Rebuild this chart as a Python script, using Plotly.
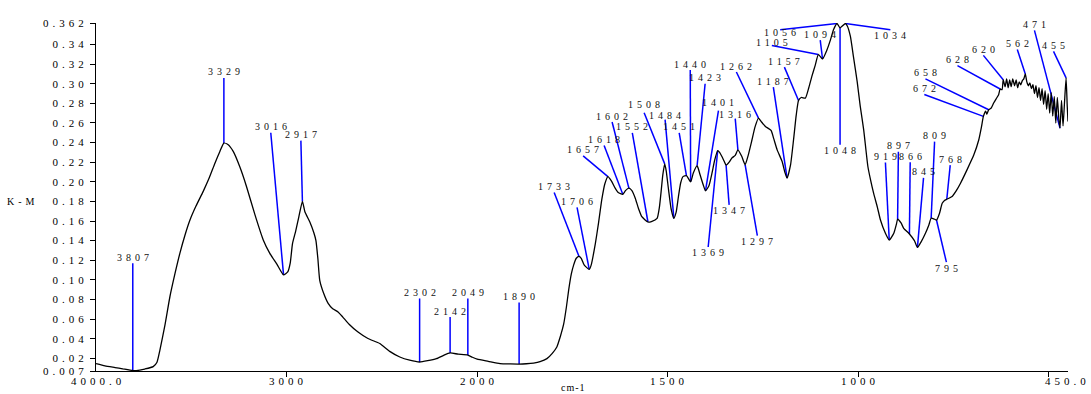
import numpy as np
import plotly.graph_objects as go

# ---- spectrum (wavenumber in cm-1, Kubelka-Munk units) ----
wavenumber = [
    4000, 3953, 3900, 3860, 3808, 3770, 3744, 3700, 3680, 3665, 3638, 3612, 3586, 3560,
    3534, 3507, 3476, 3438, 3408, 3376, 3350, 3329, 3308, 3280, 3245, 3210, 3167, 3123,
    3088, 3051, 3016, 2994, 2981, 2969, 2952, 2936, 2917, 2904, 2878, 2857, 2846, 2836,
    2826, 2805, 2782, 2758, 2730, 2705, 2672, 2627, 2573, 2511, 2459, 2406, 2354, 2302,
    2260, 2214, 2176, 2142, 2100, 2049, 2025, 2000, 1971, 1940, 1913, 1890, 1871, 1852,
    1835, 1817, 1803, 1791, 1782, 1773, 1766, 1760, 1753, 1747, 1740, 1733, 1727, 1719,
    1706, 1701, 1690, 1682, 1673, 1665, 1657, 1648, 1638, 1630, 1618, 1611, 1602, 1594,
    1585, 1577, 1568, 1552, 1543, 1528, 1522, 1517, 1513, 1508, 1504, 1498, 1491, 1484,
    1478, 1472, 1466, 1460, 1451, 1440, 1433, 1423, 1420, 1415, 1407, 1401, 1392, 1384,
    1377, 1369, 1364, 1358, 1352, 1347, 1339, 1332, 1323, 1316, 1306, 1297, 1289, 1279,
    1271, 1262, 1254, 1244, 1229, 1222, 1213, 1200, 1193, 1187, 1178, 1170, 1163, 1157,
    1150, 1139, 1130, 1122, 1113, 1105, 1094, 1082, 1073, 1065, 1056, 1048, 1034, 1029,
    1021, 1013, 1003, 995, 986, 975, 968, 960, 950, 942, 929, 919, 907, 900,
    897, 888, 881, 866, 853, 845, 835, 824, 815, 809, 800, 795, 787, 780,
    774, 768, 754, 743, 732, 715, 697, 684, 677, 672, 666, 663, 658, 652,
    645, 638, 632, 628, 623, 620, 615, 611, 607, 603, 599, 595, 590, 586,
    582, 578, 574, 570, 566, 562, 558, 554, 550, 546, 542, 538, 534, 530,
    526, 522, 518, 514, 510, 506, 502, 498, 494, 490, 486, 482, 478, 474,
    471, 467, 463, 459, 455, 452, 450,
]
km_value = [
    0.0145, 0.0122, 0.0105, 0.0092, 0.0075, 0.0080, 0.0090, 0.0115, 0.016, 0.028, 0.054, 0.083, 0.106, 0.127,
    0.145, 0.161, 0.175, 0.190, 0.203, 0.219, 0.231, 0.2395, 0.238, 0.231, 0.215, 0.195, 0.167, 0.141,
    0.127, 0.116, 0.105, 0.108, 0.117, 0.137, 0.150, 0.164, 0.180, 0.1695, 0.159, 0.148, 0.140, 0.122,
    0.0995, 0.086, 0.076, 0.0705, 0.0673, 0.062, 0.0547, 0.047, 0.0401, 0.035, 0.027, 0.0213, 0.018, 0.0162,
    0.0175, 0.0196, 0.023, 0.0254, 0.0242, 0.0233, 0.021, 0.019, 0.0168, 0.0145, 0.0142, 0.0141, 0.0144, 0.0151,
    0.0165, 0.0196, 0.025, 0.0315, 0.042, 0.055, 0.072, 0.0895, 0.106, 0.115, 0.122, 0.124, 0.122, 0.115,
    0.1107, 0.115, 0.137, 0.157, 0.182, 0.198, 0.2053, 0.201, 0.1935, 0.189, 0.1873, 0.191, 0.1935, 0.191,
    0.183, 0.173, 0.1644, 0.159, 0.1595, 0.1628, 0.174, 0.1917, 0.207, 0.2183, 0.211, 0.192, 0.172, 0.1628,
    0.169, 0.185, 0.199, 0.2053, 0.2063, 0.200, 0.209, 0.2166, 0.2135, 0.207, 0.197, 0.1907, 0.196, 0.2088,
    0.222, 0.2319, 0.230, 0.2258, 0.221, 0.217, 0.220, 0.2242, 0.227, 0.2326, 0.226, 0.2173, 0.227, 0.2429,
    0.256, 0.265, 0.261, 0.2565, 0.2524, 0.244, 0.2326, 0.2207, 0.210, 0.2037, 0.217, 0.2429, 0.268, 0.283,
    0.286, 0.2854, 0.296, 0.3076, 0.319, 0.3298, 0.3253, 0.3349, 0.345, 0.3553, 0.3615, 0.357, 0.3615, 0.359,
    0.3485, 0.328, 0.302, 0.277, 0.253, 0.2156, 0.202, 0.1884, 0.174, 0.161, 0.1475, 0.1406, 0.1475, 0.157,
    0.1618, 0.158, 0.1526, 0.1468, 0.140, 0.1331, 0.139, 0.1475, 0.156, 0.1628, 0.1618, 0.161, 0.168, 0.1781,
    0.181, 0.1822, 0.185, 0.191, 0.1986, 0.2122, 0.2275, 0.2429, 0.256, 0.2667, 0.272, 0.269, 0.2735, 0.275,
    0.2804, 0.285, 0.2889, 0.2947, 0.294, 0.3042, 0.297, 0.305, 0.296, 0.304, 0.297, 0.305, 0.298, 0.304,
    0.296, 0.302, 0.299, 0.303, 0.305, 0.310, 0.302, 0.298, 0.301, 0.295, 0.299, 0.290, 0.298, 0.286,
    0.296, 0.283, 0.295, 0.279, 0.293, 0.274, 0.290, 0.270, 0.291, 0.267, 0.287, 0.260, 0.286, 0.264,
    0.2548, 0.283, 0.257, 0.282, 0.306, 0.277, 0.2616,
]

# ---- peak picks ----
peak_labels = [
    3807, 3329, 3016, 2917, 2302, 2142, 2049, 1890, 1733, 1706, 1657, 1618, 1602, 1552,
    1508, 1484, 1451, 1440, 1423, 1401, 1369, 1347, 1316, 1297, 1262, 1187, 1157, 1105,
    1094, 1056, 1048, 1034, 919, 897, 866, 845, 809, 795, 768, 672, 658, 628, 620, 562,
    471, 455,
]

# where each pick's leader line ends (wavenumber, K-M) and which side the text sits on
leader_tips = {
    3807: (3807, 0.117, "up"), 3329: (3329, 0.306, "up"), 3016: (3083, 0.250, "up"),
    2917: (2925, 0.242, "up"), 2302: (2302, 0.081, "up"), 2142: (2142, 0.062, "up"),
    2049: (2049, 0.081, "up"), 1890: (1890, 0.077, "up"), 1733: (1798, 0.189, "up"),
    1706: (1738, 0.174, "up"), 1657: (1722, 0.2265, "up"), 1618: (1667, 0.237, "up"),
    1602: (1646, 0.261, "up"), 1552: (1593, 0.250, "up"), 1508: (1562, 0.2705, "up"),
    1484: (1507, 0.2635, "up"), 1451: (1470, 0.250, "up"), 1440: (1441, 0.314, "up"),
    1423: (1402, 0.300, "up"), 1401: (1367, 0.2725, "up"), 1369: (1394, 0.1335, "down"),
    1347: (1339, 0.1765, "down"), 1316: (1323, 0.2645, "up"), 1297: (1265, 0.145, "down"),
    1262: (1320, 0.312, "up"), 1187: (1223, 0.2965, "up"), 1157: (1194, 0.317, "up"),
    1105: (1227, 0.339, "up"), 1094: (1100, 0.3445, "up"), 1056: (1205, 0.355, "down"),
    1048: (1048, 0.2377, "down"), 1034: (916, 0.355, "down"), 919: (929, 0.2197, "up"),
    897: (895, 0.2306, "up"), 866: (864, 0.220, "up"), 845: (829, 0.204, "up"),
    809: (800, 0.241, "up"), 795: (769, 0.118, "down"), 768: (759, 0.217, "up"),
    672: (827, 0.289, "up"), 658: (824, 0.305, "up"), 628: (740, 0.3185, "up"),
    620: (672, 0.329, "up"), 562: (583, 0.335, "up"), 471: (538, 0.3545, "up"),
    455: (488, 0.333, "up"),
}
# small vertical offsets (px) that keep crowded pick labels apart
label_nudge = {1508: 2, 1484: -2, 1401: 2, 1316: -2, 1105: -3, 1056: 3}

# ---- axis ticks ----
y_tick_values = [0.007, 0.02, 0.04, 0.06, 0.08, 0.10, 0.12, 0.14, 0.16, 0.18, 0.20,
                 0.22, 0.24, 0.26, 0.28, 0.30, 0.32, 0.34, 0.362]
y_tick_labels = ["0.007", "0.02", "0.04", "0.06", "0.08", "0.10", "0.12", "0.14", "0.16",
                 "0.18", "0.20", "0.22", "0.24", "0.26", "0.28", "0.30", "0.32", "0.34", "0.362"]
x_tick_marks = [3000, 2000, 1500, 1000, 500]
x_label_values = [4000, 3000, 2000, 1500, 1000, 450]
x_label_texts = ["4000.0", "3000", "2000", "1500", "1000", "450.0"]


def to_u(w):
    """Axis coordinate: below 2000 cm-1 the scale is expanded two-fold."""
    w = np.asarray(w, dtype=float)
    return np.where(w >= 2000, 4000 - w, 2000 + 2 * (2000 - w))


wn_arr = np.array(wavenumber, dtype=float)
km_arr = np.array(km_value, dtype=float)

SERIF = "Liberation Serif, Times New Roman, serif"

fig = go.Figure()

# leader lines from the curve to each pick label
lx, ly = [], []
for p in peak_labels:
    tw, tv, _ = leader_tips[p]
    base_v = float(np.interp(p, wn_arr[::-1], km_arr[::-1]))
    lx += [float(to_u(p)), float(to_u(tw)), None]
    ly += [base_v, tv, None]
fig.add_trace(go.Scatter(x=lx, y=ly, mode="lines",
                         line=dict(color="#0000ff", width=1.5),
                         hoverinfo="skip", showlegend=False))

# spectrum
fig.add_trace(go.Scatter(x=to_u(wn_arr), y=km_arr, mode="lines",
                         line=dict(color="black", width=1.3, shape="spline", smoothing=0.5),
                         showlegend=False,
                         customdata=wn_arr,
                         hovertemplate="%{customdata:.0f} cm-1<br>%{y:.4f}<extra></extra>"))

annotations = []
for p in peak_labels:
    tw, tv, side = leader_tips[p]
    annotations.append(dict(
        x=float(to_u(tw)), y=tv, xref="x", yref="y", text=str(p), showarrow=False,
        xanchor="center", yanchor="middle",
        yshift=(6 if side == "up" else -6) + label_nudge.get(p, 0), xshift=2,
        font=dict(family=SERIF, size=10, color="#111111"), borderpad=0,
    ))

# wavenumber labels under the axis
for w, txt in zip(x_label_values, x_label_texts):
    annotations.append(dict(
        x=float(to_u(w)), y=0, xref="x", yref="paper", text=txt, showarrow=False,
        xanchor="center", yanchor="middle", yshift=-10, xshift=-1 if w == 450 else 2,
        font=dict(family=SERIF, size=11, color="black"), borderpad=0,
    ))

# axis titles
annotations.append(dict(x=0.4915, y=0, xref="paper", yref="paper", text="cm-1", showarrow=False,
                        xanchor="center", yanchor="middle", yshift=-16, borderpad=0,
                        font=dict(family=SERIF, size=10, color="black")))
annotations.append(dict(x=-0.075, y=0.18, xref="paper", yref="y", text="K-M", showarrow=False,
                        xanchor="center", yanchor="middle",
                        font=dict(family=SERIF, size=10, color="black")))

fig.update_layout(
    width=1091, height=394, autosize=False,
    margin=dict(l=96, r=23, t=23, b=23),
    paper_bgcolor="white", plot_bgcolor="white",
    annotations=annotations,
    xaxis=dict(
        range=[0, 5100], showgrid=False, zeroline=False, automargin=False,
        showline=True, linecolor="black", linewidth=1,
        tickmode="array", tickvals=to_u(x_tick_marks).tolist(), showticklabels=False,
        ticks="outside", ticklen=5, tickcolor="black", tickwidth=1,
    ),
    yaxis=dict(
        range=[0.007, 0.362], showgrid=False, zeroline=False, automargin=False,
        showline=True, linecolor="black", linewidth=1,
        tickmode="array", tickvals=y_tick_values, ticktext=y_tick_labels,
        ticks="outside", ticklen=5, tickcolor="black", tickwidth=1,
        tickfont=dict(family=SERIF, size=11, color="black"),
    ),
)

# widen the letter spacing of the numeric labels
SPACING_JS = """
var gd = document.getElementById('{plot_id}');
function spaceOut() {
  gd.querySelectorAll('.ytick text').forEach(function (t) { t.style.letterSpacing = '4px'; });
  gd.querySelectorAll('.annotation-text').forEach(function (t) {
    var s = t.textContent;
    if (/^[0-9.]+$/.test(s)) { t.style.letterSpacing = '4px'; }
    else if (s === 'K-M') { t.style.letterSpacing = '4px'; }
    else { t.style.letterSpacing = '1px'; }
  });
}
spaceOut();
gd.on('plotly_afterplot', spaceOut);
"""

fig.write_html("out.html", post_script=SPACING_JS)
